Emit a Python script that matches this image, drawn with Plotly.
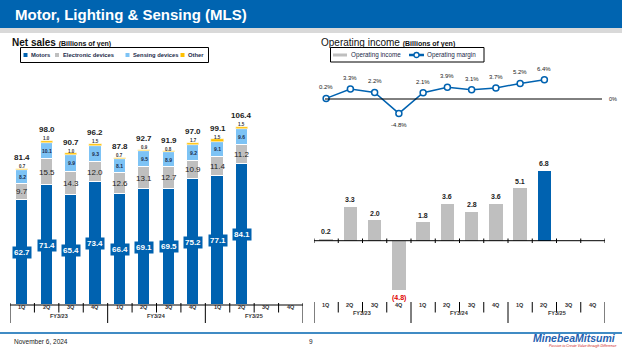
import plotly.graph_objects as go

quarters = ["1Q", "2Q", "3Q", "4Q"] * 3
fiscal_years = ["FY3/23", "FY3/24", "FY3/25"]

motors = [62.7, 71.4, 65.4, 73.4, 66.4, 69.1, 69.5, 75.2, 77.1, 84.1]
electronic = [9.7, 15.5, 14.3, 12.0, 12.6, 13.1, 12.7, 10.9, 11.4, 11.2]
sensing = [8.2, 10.1, 9.9, 9.3, 8.1, 9.5, 8.9, 9.2, 9.1, 9.6]
other = [0.7, 1.0, 1.0, 1.5, 0.7, 0.9, 0.8, 1.7, 1.5, 1.5]
totals = [81.4, 98.0, 90.7, 96.2, 87.8, 92.7, 91.9, 97.0, 99.1, 106.4]

op_income = [0.2, 3.3, 2.0, -4.8, 1.8, 3.6, 2.8, 3.6, 5.1, 6.8]
op_margin = [0.2, 3.3, 2.2, -4.8, 2.1, 3.9, 3.1, 3.7, 5.2, 6.4]

BLUE = "#0062B0"
GRAY = "#BFBFBF"
LBLUE = "#7DC3F5"
ORANGE = "#FFC000"
FONT = "Liberation Sans, Arial, sans-serif"
W, H = 622, 350


def py(p):
    return (H - p) / H


def px(p):
    return p / W


n = len(motors)
xs = list(range(n))

fig = go.Figure()
bw = 0.5
mline = dict(color="white", width=1)
fig.add_trace(go.Bar(x=xs, y=motors, marker=dict(color=BLUE, line=mline), width=bw, xaxis="x", yaxis="y", name="Motors"))
fig.add_trace(go.Bar(x=xs, y=electronic, marker=dict(color=GRAY, line=mline), width=bw, xaxis="x", yaxis="y", name="Electronic devices"))
fig.add_trace(go.Bar(x=xs, y=sensing, marker=dict(color=LBLUE, line=mline), width=bw, xaxis="x", yaxis="y", name="Sensing devices"))
fig.add_trace(go.Bar(x=xs, y=other, marker=dict(color=ORANGE, line=dict(color="white", width=0.5)), width=bw, xaxis="x", yaxis="y", name="Other"))

fig.add_trace(go.Bar(x=xs, y=op_income, marker=dict(color=[GRAY] * (n - 1) + [BLUE], line=dict(width=0)),
                     width=bw + 0.05, xaxis="x2", yaxis="y2", name="Operating income"))
fig.add_trace(go.Scatter(x=xs, y=op_margin, mode="lines+markers", line=dict(color=BLUE, width=1.5),
                         marker=dict(symbol="circle", size=6, color="white", line=dict(color=BLUE, width=1.5)),
                         xaxis="x3", yaxis="y3", name="Operating margin"))

ann = []
shapes = []

# stacked labels
for i in range(n):
    ann.append(dict(x=i, y=motors[i] / 2, xref="x", yref="y", text="<b>%.1f</b>" % motors[i], showarrow=False,
                    font=dict(family=FONT, size=8, color="white"), bgcolor=BLUE, borderpad=1))
    ann.append(dict(x=i, y=motors[i] + electronic[i] / 2, xref="x", yref="y", text="%.1f" % electronic[i], showarrow=False,
                    font=dict(family=FONT, size=8, color="#222")))
    ann.append(dict(x=i, y=motors[i] + electronic[i] + sensing[i] / 2, xref="x", yref="y", text="<b>%.1f</b>" % sensing[i],
                    showarrow=False, font=dict(family=FONT, size=5, color="#1a2a4a")))
    top = motors[i] + electronic[i] + sensing[i] + other[i]
    ann.append(dict(x=i, y=top, xref="x", yref="y", text="<b>%.1f</b>" % other[i], showarrow=False, yshift=2,
                    font=dict(family=FONT, size=4.5, color="#333")))
    ann.append(dict(x=i, y=top, xref="x", yref="y", text="<b>%.1f</b>" % totals[i], showarrow=False, yshift=11,
                    font=dict(family=FONT, size=8, color="#222")))

# operating income labels
for i in range(n):
    v = op_income[i]
    if v >= 0:
        ann.append(dict(x=i, y=v, xref="x2", yref="y2", text="<b>%.1f</b>" % v, showarrow=False, yshift=7,
                        font=dict(family=FONT, size=7, color="#222")))
    else:
        ann.append(dict(x=i, y=v, xref="x2", yref="y2", text="<b>(%.1f)</b>" % abs(v), showarrow=False, yshift=-8,
                        font=dict(family=FONT, size=7, color="#E00000")))
    m = op_margin[i]
    ann.append(dict(x=i, y=m, xref="x3", yref="y3", text="%.1f%%" % m, showarrow=False,
                    yshift=(11 if m >= 0 else -12), font=dict(family=FONT, size=6, color="#222")))

# category axes (two-level)
for xr, q_y, fy_y, tick_top in [("x", 312, 321, 303), ("x2", 310, 318, 302)]:
    for i, q in enumerate(quarters):
        ann.append(dict(x=i, y=py(q_y), xref=xr, yref="paper", text="<b>%s</b>" % q, showarrow=False,
                        font=dict(family=FONT, size=5.5, color="#333")))
    for k, fy in enumerate(fiscal_years):
        ann.append(dict(x=k * 4 + 1.5, y=py(fy_y), xref=xr, yref="paper", text="<b>%s</b>" % fy, showarrow=False,
                        font=dict(family=FONT, size=5.5, color="#333")))
    for b in range(13):
        xb = b - 0.5
        bottom = 323 if b % 4 == 0 else 312.5
        shapes.append(dict(type="line", xref=xr, yref="paper", x0=xb, x1=xb, y0=py(tick_top), y1=py(bottom),
                           line=dict(color="black", width=1)))

# left axis line
shapes.append(dict(type="line", xref="paper", yref="paper", x0=px(10), x1=px(303), y0=py(305), y1=py(305),
                   line=dict(color="black", width=1)))
# right zero line and small ticks
shapes.append(dict(type="line", xref="paper", yref="paper", x0=px(314), x1=px(605), y0=py(240.7), y1=py(240.7),
                   line=dict(color="black", width=1)))
for b in range(13):
    shapes.append(dict(type="line", xref="x2", yref="paper", x0=b - 0.5, x1=b - 0.5, y0=py(238.5), y1=py(243),
                       line=dict(color="black", width=1)))
# margin zero line
shapes.append(dict(type="line", xref="paper", yref="y3", x0=px(325), x1=px(602), y0=0, y1=0,
                   line=dict(color="black", width=1)))
ann.append(dict(x=px(607), y=0, xref="paper", yref="y3", text="0%", showarrow=False, xanchor="left",
                font=dict(family=FONT, size=5.5, color="#222")))

# header
shapes.append(dict(type="rect", xref="paper", yref="paper", x0=0, x1=1, y0=py(28), y1=1, fillcolor="#0064B0",
                   line=dict(width=0), layer="below"))
shapes.append(dict(type="rect", xref="paper", yref="paper", x0=0, x1=1, y0=py(33), y1=py(28), fillcolor="#D9D9D9",
                   line=dict(width=0), layer="below"))
ann.append(dict(x=px(13), y=py(15), xref="paper", yref="paper", xanchor="left", yanchor="middle", showarrow=False,
                text="<b>Motor, Lighting & Sensing (MLS)</b>", font=dict(family=FONT, size=15, color="white")))

# footer
shapes.append(dict(type="line", xref="paper", yref="paper", x0=0, x1=1, y0=py(333), y1=py(333),
                   line=dict(color="#0064B0", width=1.5)))
ann.append(dict(x=px(12), y=py(341), xref="paper", yref="paper", xanchor="left", yanchor="middle", showarrow=False,
                text="November 6, 2024", font=dict(family=FONT, size=6.5, color="#222")))
ann.append(dict(x=px(311), y=py(341), xref="paper", yref="paper", xanchor="center", yanchor="middle", showarrow=False,
                text="9", font=dict(family=FONT, size=6.5, color="#222")))
ann.append(dict(x=px(618), y=py(338), xref="paper", yref="paper", xanchor="right", yanchor="middle", showarrow=False,
                text="<b><i>MinebeaMitsumi</i></b>", font=dict(family=FONT, size=10.5, color="#1F5FB0")))
ann.append(dict(x=px(618), y=py(345.5), xref="paper", yref="paper", xanchor="right", yanchor="middle", showarrow=False,
                text="<i>Passion to Create Value through Difference</i>", font=dict(family=FONT, size=3.5, color="#D02020")))

# titles
ann.append(dict(x=px(10), y=py(42), xref="paper", yref="paper", xanchor="left", yanchor="middle", showarrow=False,
                text="<b>Net sales</b> <b><span style='font-size:7px'>(Billions of yen)</span></b>",
                font=dict(family=FONT, size=10, color="#111")))
ann.append(dict(x=px(319), y=py(42), xref="paper", yref="paper", xanchor="left", yanchor="middle", showarrow=False,
                text="Operating income <b><span style='font-size:7px'>(Billions of yen)</span></b>",
                font=dict(family=FONT, size=10, color="#111")))

# left legend
shapes.append(dict(type="rect", xref="paper", yref="paper", x0=px(20.5), x1=px(208.5), y0=py(62.5), y1=py(47.5),
                   line=dict(color="black", width=1)))
leg = [("Motors", BLUE, 23.5), ("Electronic devices", GRAY, 55), ("Sensing devices", LBLUE, 125.5), ("Other", ORANGE, 180.5)]
for name, col, x0 in leg:
    shapes.append(dict(type="rect", xref="paper", yref="paper", x0=px(x0), x1=px(x0 + 4), y0=py(57), y1=py(53),
                       fillcolor=col, line=dict(width=0)))
    ann.append(dict(x=px(x0 + 5.5), y=py(55), xref="paper", yref="paper", xanchor="left", yanchor="middle",
                    showarrow=False, text="<b>%s</b>" % name, font=dict(family=FONT, size=5.8, color="#1a2a4a")))

# right legend
shapes.append(dict(type="rect", xref="paper", yref="paper", x0=px(330.5), x1=px(484), y0=py(62), y1=py(47.5),
                   line=dict(color="black", width=1)))
shapes.append(dict(type="rect", xref="paper", yref="paper", x0=px(333), x1=px(347), y0=py(56.5), y1=py(53.5),
                   fillcolor=GRAY, line=dict(width=0)))
ann.append(dict(x=px(348.5), y=py(55), xref="paper", yref="paper", xanchor="left", yanchor="middle", showarrow=False,
                text="Operating income", font=dict(family=FONT, size=6.3, color="#1a2a4a")))
shapes.append(dict(type="line", xref="paper", yref="paper", x0=px(409), x1=px(424), y0=py(55), y1=py(55),
                   line=dict(color=BLUE, width=2.5)))
shapes.append(dict(type="circle", xref="paper", yref="paper", x0=px(414), x1=px(419), y0=py(57.5), y1=py(52.5),
                   fillcolor="white", line=dict(color=BLUE, width=1.3)))
ann.append(dict(x=px(424.5), y=py(55), xref="paper", yref="paper", xanchor="left", yanchor="middle", showarrow=False,
                text="Operating margin", font=dict(family=FONT, size=6.3, color="#1a2a4a")))

hidden = dict(visible=False, fixedrange=True)
fig.update_layout(
    width=W, height=H, margin=dict(l=0, r=0, t=0, b=0), paper_bgcolor="white", plot_bgcolor="rgba(0,0,0,0)",
    barmode="relative", showlegend=False, bargap=0,
    xaxis=dict(domain=[px(10), px(303)], range=[-0.5, 11.5], **hidden),
    yaxis=dict(domain=[py(305), py(40)], range=[0, 265 / 1.675], **hidden),
    xaxis2=dict(domain=[px(314), px(605)], range=[-0.5, 11.5], **hidden),
    yaxis2=dict(domain=[py(300), py(150)], range=[-59.3 / 10.3, 90.7 / 10.3], **hidden),
    xaxis3=dict(domain=[px(314), px(605)], range=[-0.5, 11.5], **hidden),
    yaxis3=dict(domain=[py(125), py(60)], range=[-26 / 3.0, 39 / 3.0], **hidden),
    annotations=ann, shapes=shapes,
)

fig.write_html("out.html")
